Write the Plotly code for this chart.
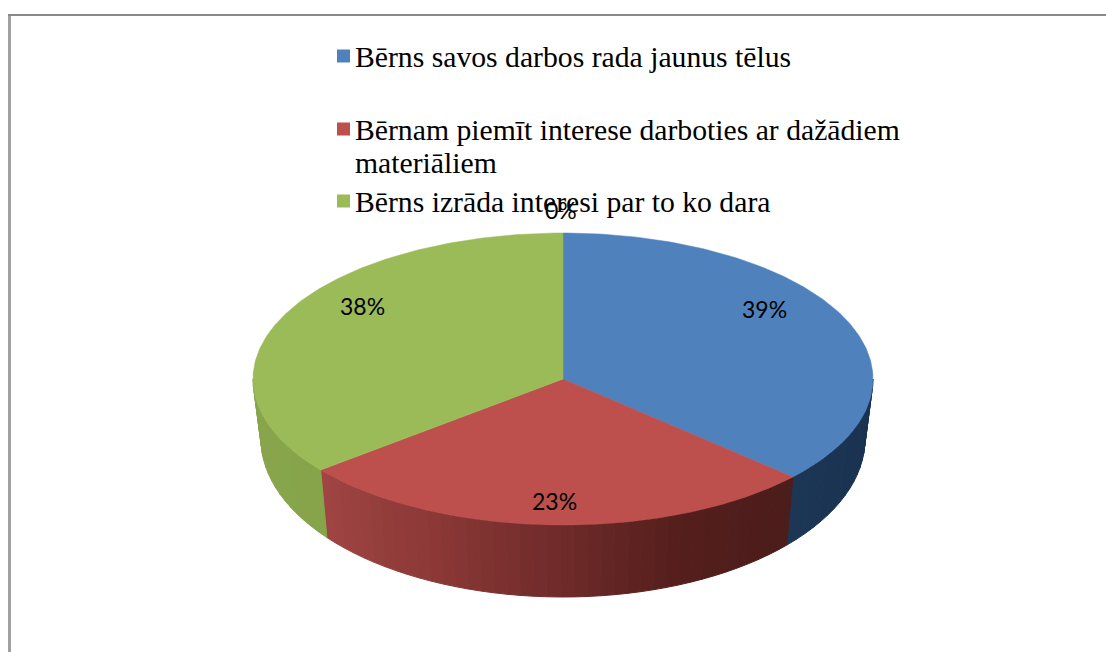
import numpy as np
import plotly.graph_objects as go

categories = ["Bērns savos darbos rada jaunus tēlus",
              "Bērnam piemīt interese darboties ar dažādiem materiāliem",
              "Bērns izrāda interesi par to ko dara",
              ""]
values = [39, 23, 38, 0]
labels = ["39%", "23%", "38%", "0%"]
label_x = [764, 554, 362, 561]
label_y = [309, 501, 306, 210]
legend_lines = [["Bērns savos darbos rada jaunus tēlus"],
                ["Bērnam piemīt interese darboties ar dažādiem", "materiāliem"],
                ["Bērns izrāda interesi par to ko dara"]]
legend_y = [57, 130, 202]
top_colors = ["#4f81bd", "#bd4f4c", "#9bbb59"]
wall_x = [[780, 880], [320, 440, 560, 680, 795], [250, 330]]
wall_rgb = [[(30, 56, 88), (26, 50, 80)],
            [(160, 69, 67), (138, 56, 54), (111, 43, 42), (85, 31, 29), (75, 29, 27)],
            [(137, 166, 76), (134, 164, 73)]]

# projection of the pie disc onto the page
CX, CY, RX, RY = 563, 379, 310, 146
BX, BY, BRY = 302, 439, 158
WARP = 1.335


def warp(a):
    r = np.radians(a)
    return np.degrees(np.arctan2(np.sin(r) * WARP, np.cos(r))) % 360


def top_pt(t):
    r = np.radians(t)
    return CX + RX * np.sin(r), CY - RY * np.cos(r)


def bot_pt(t):
    r = np.radians(t)
    return CX + BX * np.sin(r), BY - BRY * np.cos(r)


fig = go.Figure()
shares = np.array(values, float) / sum(values) * 360
edges = np.concatenate([[0], np.cumsum(shares)])

# side walls
for i in range(3):
    a0 = edges[i]
    a1 = edges[i + 1]
    t0 = warp(a0) if a0 > 0 else 0.0
    t1 = warp(a1) if a1 < 360 else 360.0
    lo, hi = max(t0, 90), min(t1, 270)
    if hi <= lo:
        continue
    n = max(2, int((hi - lo) / 2.5))
    grid = np.linspace(lo, hi, n + 1)
    for s in range(n):
        ts = np.linspace(grid[s], grid[s + 1], 4)
        xt, yt = top_pt(ts)
        xb, yb = bot_pt(ts[::-1])
        xm = top_pt(ts.mean())[0]
        rgb = [int(np.interp(xm, wall_x[i], [c[k] for c in wall_rgb[i]])) for k in range(3)]
        col = f"rgb({rgb[0]},{rgb[1]},{rgb[2]})"
        fig.add_trace(go.Scatter(x=np.r_[xt, xb, xt[0]], y=np.r_[yt, yb, yt[0]],
                                 mode="lines", fill="toself", fillcolor=col,
                                 line=dict(color=col, width=1), hoverinfo="skip", showlegend=False))

# top faces
for i in range(3):
    t0 = warp(edges[i]) if edges[i] > 0 else 0.0
    t1 = warp(edges[i + 1]) if edges[i + 1] < 360 else 360.0
    ts = np.linspace(t0, t1, 160)
    xt, yt = top_pt(ts)
    fig.add_trace(go.Scatter(x=np.r_[CX, xt, CX], y=np.r_[CY, yt, CY], mode="lines", fill="toself",
                             fillcolor=top_colors[i], line=dict(color=top_colors[i], width=0.5),
                             name=categories[i], hoverinfo="name", showlegend=False))

# legend swatches
fig.add_trace(go.Scatter(x=[343.5] * 3, y=[y - 1 for y in legend_y], mode="markers",
                         marker=dict(symbol="square", size=13, color=top_colors, line=dict(width=0)),
                         hoverinfo="skip", showlegend=False))

annotations = []
for lines, y0 in zip(legend_lines, legend_y):
    for j, line in enumerate(lines):
        annotations.append(dict(x=353, y=y0 + 33 * j, text=line, xanchor="left", yanchor="middle",
                                showarrow=False, xref="x", yref="y",
                                font=dict(family="Liberation Serif", size=29.7, color="#000000")))
for txt, x, y in zip(labels, label_x, label_y):
    annotations.append(dict(x=x, y=y, text=txt, xanchor="center", yanchor="middle", showarrow=False,
                            xref="x", yref="y", font=dict(family="Lato", size=23, color="#000000")))

shapes = [
    dict(type="rect", xref="x", yref="y", x0=8, x1=11, y0=14, y1=652, fillcolor="#a0a0a0", line=dict(width=0), layer="below"),
    dict(type="rect", xref="x", yref="y", x0=8, x1=1106, y0=14, y1=16, fillcolor="#8a8a8a", line=dict(width=0), layer="below"),
]

fig.update_layout(
    width=1106, height=652, margin=dict(l=0, r=0, t=0, b=0),
    paper_bgcolor="white", plot_bgcolor="white", showlegend=False,
    xaxis=dict(range=[0, 1106], visible=False, fixedrange=True),
    yaxis=dict(range=[652, 0], visible=False, fixedrange=True),
    annotations=annotations, shapes=shapes,
)
fig.write_html("out.html", config={"displayModeBar": False},
               post_script="document.body.style.margin='0';document.body.style.overflow='hidden';")
